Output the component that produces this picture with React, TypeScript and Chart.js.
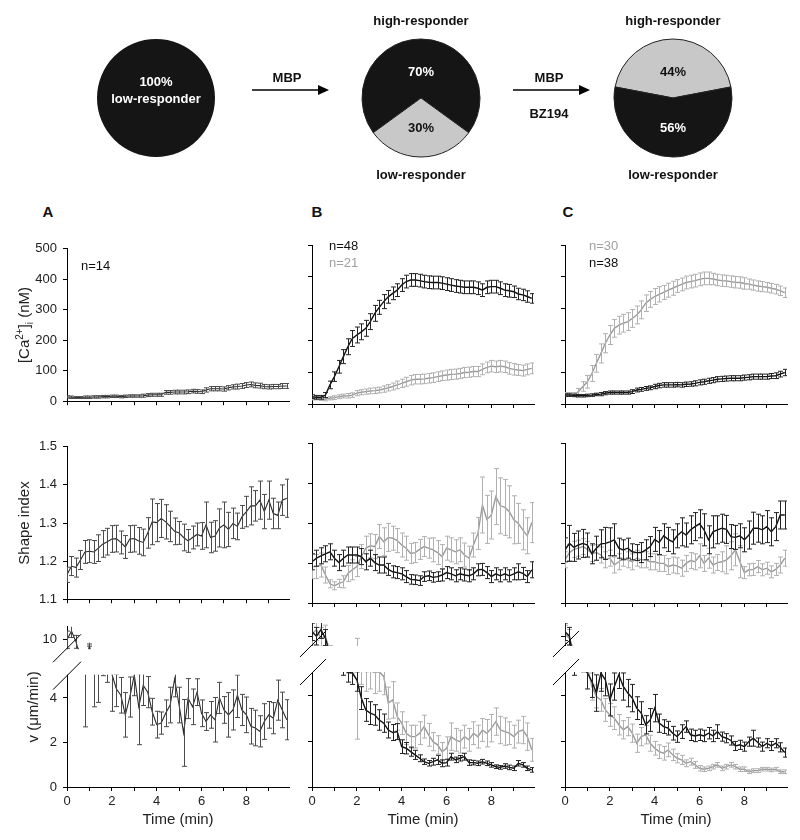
import React, { useEffect, useRef } from 'react';
import { Chart, registerables, LinearScale } from 'chart.js';

Chart.register(...registerables);

const FONT = "'Liberation Sans', Arial, Helvetica, sans-serif";

// ---------------- data ----------------
const TIMES = [0, 0.2, 0.4, 0.6, 0.8, 1, 1.2, 1.4, 1.6, 1.8,
  2, 2.2, 2.4, 2.6, 2.8, 3, 3.2, 3.4, 3.6, 3.8,
  4, 4.2, 4.4, 4.6, 4.8, 5, 5.2, 5.4, 5.6, 5.8,
  6, 6.2, 6.4, 6.6, 6.8, 7, 7.2, 7.4, 7.6, 7.8,
  8, 8.2, 8.4, 8.6, 8.8, 9, 9.2, 9.4, 9.6, 9.8];

const X_TICKS = [0, 1, 2, 3, 4, 5, 6, 7, 8, 9];
const X_LABELED = [0, 2, 4, 6, 8];
const CA_TICKS = [0, 100, 200, 300, 400, 500];
const SHAPE_TICKS = [1.1, 1.2, 1.3, 1.4, 1.5];
const V_TICKS = [0, 2, 4, 10];

const PIE1_VALUES = [100];
const PIE2_VALUES = [70, 30];
const PIE3_VALUES = [44, 56];

const CA_A = [14, 13, 12, 12, 13, 13, 14, 14, 15, 15,
  16, 16, 15, 16, 17, 17, 17, 18, 20, 21,
  21, 21, 29, 29, 30, 30, 30, 31, 33, 32,
  31, 37, 41, 41, 41, 40, 44, 47, 48, 50,
  53, 55, 52, 51, 48, 47, 48, 48, 50, 50];
const CA_A_ERR = [4, 4, 3, 3, 4, 4, 4, 4, 4, 4,
  4, 4, 4, 4, 4, 4, 4, 5, 5, 5,
  5, 5, 6, 6, 6, 6, 6, 6, 6, 6,
  6, 7, 7, 7, 7, 7, 7, 7, 8, 8,
  8, 8, 8, 8, 7, 7, 7, 7, 8, 8];

const CA_B_BLACK = [23, 21, 21, 28, 60, 86, 117, 149, 180, 206,
  217, 227, 238, 259, 285, 304, 322, 337, 348, 358,
  374, 385, 390, 390, 388, 385, 383, 382, 382, 380,
  377, 374, 371, 369, 367, 367, 367, 364, 358, 367,
  369, 369, 364, 358, 356, 353, 346, 343, 338, 332];
const CA_B_BLACK_ERR = [6, 6, 6, 8, 12, 15, 20, 22, 25, 25,
  25, 25, 25, 25, 25, 22, 22, 20, 20, 20,
  20, 20, 20, 20, 20, 20, 20, 20, 20, 20,
  20, 20, 20, 20, 20, 20, 20, 20, 20, 20,
  20, 20, 20, 20, 20, 18, 18, 18, 18, 15];
const CA_B_GREY = [18, 18, 16, 15, 18, 20, 23, 25, 26, 28,
  34, 37, 39, 41, 42, 44, 47, 51, 55, 60,
  65, 70, 75, 78, 78, 79, 81, 83, 86, 89,
  91, 93, 94, 96, 99, 100, 102, 102, 109, 115,
  119, 117, 119, 117, 112, 109, 107, 105, 109, 112];
const CA_B_GREY_ERR = [5, 5, 5, 5, 5, 6, 6, 6, 7, 7,
  8, 8, 8, 9, 9, 9, 10, 10, 11, 12,
  13, 14, 15, 15, 15, 15, 15, 15, 15, 15,
  16, 16, 16, 16, 16, 16, 16, 16, 17, 17,
  18, 18, 18, 18, 18, 18, 17, 17, 17, 17];

const CA_C_GREY = [30, 30, 30, 39, 55, 70, 96, 128, 159, 191,
  217, 238, 248, 254, 259, 269, 280, 296, 317, 329,
  338, 345, 351, 358, 364, 371, 376, 382, 385, 388,
  392, 395, 395, 393, 390, 388, 387, 385, 383, 382,
  379, 377, 374, 371, 369, 367, 364, 361, 356, 350];
const CA_C_GREY_ERR = [6, 6, 6, 10, 15, 20, 25, 28, 30, 30,
  30, 28, 28, 28, 28, 28, 28, 28, 26, 25,
  25, 24, 22, 22, 22, 20, 20, 20, 20, 20,
  20, 20, 20, 18, 18, 18, 18, 18, 18, 18,
  18, 16, 16, 16, 16, 15, 15, 15, 15, 15];
const CA_C_BLACK = [28, 28, 27, 26, 26, 27, 28, 30, 31, 34,
  36, 36, 36, 36, 36, 39, 44, 46, 49, 51,
  55, 58, 60, 60, 60, 61, 60, 62, 63, 65,
  68, 70, 73, 75, 78, 79, 80, 81, 81, 81,
  83, 84, 86, 86, 86, 86, 88, 89, 94, 99];
const CA_C_BLACK_ERR = [4, 4, 4, 4, 4, 4, 4, 4, 5, 5,
  5, 5, 5, 5, 5, 6, 6, 6, 6, 6,
  7, 7, 7, 7, 7, 7, 7, 7, 7, 8,
  8, 8, 8, 8, 8, 8, 8, 8, 8, 8,
  8, 8, 8, 8, 8, 8, 8, 9, 9, 10];

const SHAPE_A = [1.164, 1.187, 1.183, 1.203, 1.224, 1.226, 1.224, 1.234, 1.245, 1.251,
  1.258, 1.259, 1.249, 1.237, 1.258, 1.259, 1.253, 1.249, 1.274, 1.303,
  1.301, 1.312, 1.303, 1.291, 1.278, 1.274, 1.262, 1.253, 1.262, 1.27,
  1.266, 1.295, 1.262, 1.266, 1.287, 1.295, 1.283, 1.299, 1.291, 1.316,
  1.33, 1.345, 1.345, 1.36, 1.33, 1.36, 1.325, 1.32, 1.36, 1.365];
const SHAPE_A_ERR = [0.02, 0.025, 0.025, 0.025, 0.03, 0.03, 0.03, 0.035, 0.035, 0.035,
  0.035, 0.035, 0.03, 0.03, 0.035, 0.035, 0.035, 0.035, 0.04, 0.06,
  0.05, 0.05, 0.045, 0.04, 0.035, 0.03, 0.035, 0.03, 0.03, 0.03,
  0.035, 0.06, 0.04, 0.04, 0.05, 0.06, 0.045, 0.04, 0.035, 0.03,
  0.04, 0.05, 0.04, 0.05, 0.045, 0.05, 0.04, 0.035, 0.04, 0.05];

const SHAPE_B_BLACK = [1.203, 1.212, 1.218, 1.223, 1.228, 1.212, 1.201, 1.212, 1.22, 1.22,
  1.22, 1.216, 1.203, 1.212, 1.201, 1.195, 1.195, 1.184, 1.178, 1.176,
  1.173, 1.166, 1.159, 1.158, 1.156, 1.166, 1.168, 1.164, 1.166, 1.17,
  1.176, 1.173, 1.168, 1.173, 1.17, 1.168, 1.173, 1.183, 1.184, 1.176,
  1.166, 1.173, 1.168, 1.173, 1.168, 1.173, 1.178, 1.174, 1.166, 1.183];
const SHAPE_B_BLACK_ERR = [0.02, 0.02, 0.02, 0.02, 0.02, 0.02, 0.02, 0.02, 0.02, 0.02,
  0.02, 0.02, 0.02, 0.02, 0.02, 0.02, 0.02, 0.015, 0.015, 0.015,
  0.015, 0.015, 0.012, 0.012, 0.012, 0.012, 0.012, 0.012, 0.012, 0.015,
  0.015, 0.015, 0.015, 0.015, 0.015, 0.015, 0.015, 0.015, 0.015, 0.015,
  0.015, 0.015, 0.015, 0.015, 0.015, 0.015, 0.02, 0.015, 0.015, 0.02];
const SHAPE_B_GREY = [1.191, 1.191, 1.195, 1.17, 1.148, 1.143, 1.149, 1.153, 1.174, 1.183,
  1.191, 1.216, 1.237, 1.243, 1.241, 1.266, 1.253, 1.264, 1.262, 1.256,
  1.245, 1.237, 1.224, 1.226, 1.234, 1.241, 1.237, 1.233, 1.226, 1.216,
  1.237, 1.233, 1.228, 1.233, 1.22, 1.212, 1.245, 1.274, 1.345, 1.309,
  1.32, 1.366, 1.343, 1.339, 1.328, 1.308, 1.299, 1.283, 1.268, 1.301];
const SHAPE_B_GREY_ERR = [0.03, 0.03, 0.03, 0.02, 0.01, 0.01, 0.01, 0.015, 0.02, 0.025,
  0.025, 0.03, 0.03, 0.03, 0.03, 0.03, 0.035, 0.035, 0.03, 0.03,
  0.03, 0.03, 0.025, 0.025, 0.025, 0.025, 0.025, 0.03, 0.03, 0.03,
  0.03, 0.03, 0.03, 0.03, 0.03, 0.03, 0.03, 0.04, 0.07, 0.06,
  0.06, 0.07, 0.07, 0.07, 0.065, 0.06, 0.05, 0.05, 0.045, 0.05];

const SHAPE_C_BLACK = [1.233, 1.249, 1.239, 1.245, 1.249, 1.245, 1.223, 1.237, 1.248, 1.249,
  1.253, 1.258, 1.237, 1.233, 1.237, 1.228, 1.226, 1.226, 1.233, 1.241,
  1.259, 1.251, 1.268, 1.259, 1.253, 1.268, 1.278, 1.27, 1.283, 1.291,
  1.298, 1.283, 1.258, 1.278, 1.283, 1.287, 1.284, 1.266, 1.264, 1.268,
  1.258, 1.27, 1.287, 1.287, 1.283, 1.291, 1.278, 1.291, 1.32, 1.32];
const SHAPE_C_BLACK_ERR = [0.03, 0.045, 0.035, 0.035, 0.035, 0.03, 0.025, 0.03, 0.035, 0.04,
  0.035, 0.04, 0.025, 0.025, 0.025, 0.02, 0.02, 0.025, 0.025, 0.025,
  0.03, 0.03, 0.03, 0.03, 0.03, 0.03, 0.035, 0.03, 0.035, 0.035,
  0.035, 0.04, 0.035, 0.04, 0.035, 0.035, 0.035, 0.03, 0.03, 0.03,
  0.03, 0.035, 0.04, 0.035, 0.035, 0.04, 0.035, 0.035, 0.035, 0.035];
const SHAPE_C_GREY = [1.208, 1.226, 1.234, 1.237, 1.241, 1.234, 1.224, 1.226, 1.22, 1.208,
  1.212, 1.195, 1.203, 1.212, 1.208, 1.203, 1.212, 1.208, 1.208, 1.203,
  1.203, 1.199, 1.199, 1.191, 1.195, 1.193, 1.187, 1.199, 1.206, 1.203,
  1.218, 1.199, 1.212, 1.195, 1.201, 1.203, 1.208, 1.218, 1.233, 1.203,
  1.176, 1.183, 1.184, 1.191, 1.183, 1.187, 1.178, 1.184, 1.195, 1.212];
const SHAPE_C_GREY_ERR = [0.02, 0.02, 0.02, 0.02, 0.02, 0.02, 0.02, 0.02, 0.02, 0.02,
  0.02, 0.02, 0.02, 0.02, 0.02, 0.02, 0.02, 0.02, 0.02, 0.02,
  0.02, 0.02, 0.02, 0.02, 0.02, 0.02, 0.02, 0.02, 0.02, 0.02,
  0.03, 0.02, 0.025, 0.02, 0.02, 0.025, 0.035, 0.035, 0.04, 0.04,
  0.015, 0.015, 0.015, 0.015, 0.015, 0.015, 0.015, 0.015, 0.02, 0.02];

const V_A = [10.0, 10.4, 9.9, 8.0, 5.6, 9.75, 5.5, 6.5, 7.0, 6.2,
  5.3, 4.41, 4.12, 3.24, 4.04, 5.1, 3.6, 4.56, 4.26, 3.38,
  2.8, 2.87, 3.31, 3.68, 4.85, 3.68, 2.43, 3.97, 3.6, 4.26,
  3.31, 2.94, 3.24, 3.02, 4.0, 3.46, 3.24, 3.46, 4.12, 3.46,
  3.24, 2.73, 2.65, 2.5, 2.94, 3.24, 3.09, 3.9, 3.46, 3.02];
const V_A_ERR = [0.4, 0.3, 0.3, 0.5, 2.9, 0.05, 1.9, 2.7, 2.0, 1.5,
  1.9, 0.8, 0.8, 1.0, 0.9, 1.0, 1.7, 0.9, 0.7, 0.6,
  0.6, 0.5, 0.6, 0.8, 0.8, 0.8, 1.5, 0.9, 0.8, 0.6,
  0.6, 0.4, 0.6, 1.0, 0.7, 0.6, 1.0, 0.9, 1.0, 0.7,
  0.8, 0.8, 0.8, 0.7, 0.8, 0.6, 0.7, 0.9, 0.8, 0.9];

const V_B_BLACK = [10.2, 10.0, 10.3, 9.9, 8.0, 7.0, 6.5, 5.5, 5.1, 5.0,
  4.7, 3.9, 3.38, 3.24, 3.16, 2.94, 2.8, 2.5, 2.39, 2.43,
  1.77, 1.70, 1.55, 1.41, 1.26, 1.11, 1.04, 1.11, 1.19, 1.04,
  1.07, 1.33, 1.19, 1.26, 1.33, 1.07, 1.07, 1.04, 1.11, 1.04,
  0.97, 0.89, 0.86, 0.92, 0.86, 0.82, 1.04, 0.97, 0.82, 0.75];
const V_B_BLACK_ERR = [0.4, 0.4, 0.4, 0.4, 0.6, 0.6, 0.6, 0.6, 0.5, 0.5,
  0.5, 0.5, 0.5, 0.5, 0.45, 0.45, 0.4, 0.35, 0.35, 0.35,
  0.3, 0.25, 0.2, 0.2, 0.15, 0.12, 0.12, 0.15, 0.2, 0.15,
  0.15, 0.15, 0.12, 0.12, 0.15, 0.12, 0.1, 0.1, 0.1, 0.1,
  0.1, 0.08, 0.08, 0.1, 0.1, 0.1, 0.12, 0.1, 0.1, 0.1];
const V_B_GREY = [10.1, 10.3, 9.9, 10.0, 8.5, 7.5, 7.0, 6.5, 6.0, 6.0,
  6.0, 5.5, 5.2, 5.3, 5.1, 5.2, 4.85, 3.68, 3.82, 3.09,
  2.8, 2.36, 2.21, 2.21, 2.36, 2.65, 2.29, 1.99, 1.85, 1.55,
  1.70, 2.21, 2.07, 1.99, 2.21, 2.07, 2.36, 2.21, 2.5, 2.36,
  2.58, 2.87, 2.5, 2.43, 2.36, 2.21, 2.43, 2.5, 2.21, 1.63];
const V_B_GREY_ERR = [0.5, 0.5, 0.5, 0.5, 1.0, 1.0, 1.0, 1.0, 1.0, 1.0,
  3.9, 1.0, 1.0, 1.0, 1.0, 1.0, 0.8, 0.7, 0.8, 0.6,
  0.5, 0.5, 0.5, 0.5, 0.5, 0.5, 0.5, 0.4, 0.4, 0.4,
  0.5, 0.6, 0.5, 0.5, 0.5, 0.5, 0.5, 0.5, 0.5, 0.6,
  0.6, 0.6, 0.6, 0.6, 0.5, 0.5, 0.5, 0.6, 0.6, 0.5];

const V_C_BLACK = [10.2, 10.0, 6.0, 7.0, 6.0, 5.0, 4.63, 4.12, 5.0, 4.7,
  3.82, 4.41, 4.92, 4.41, 4.12, 3.9, 3.46, 3.24, 2.73, 2.94,
  3.46, 2.8, 2.65, 2.58, 2.36, 2.21, 2.43, 2.65, 2.29, 2.24,
  2.29, 2.24, 2.36, 2.24, 2.43, 2.21, 2.14, 2.04, 1.8, 1.85,
  1.77, 1.99, 2.14, 1.95, 1.77, 1.92, 1.8, 1.92, 1.74, 1.51];
const V_C_BLACK_ERR = [0.4, 0.4, 1.1, 0.8, 0.8, 0.7, 0.7, 0.8, 0.8, 0.7,
  0.7, 0.6, 0.6, 0.6, 0.6, 0.6, 0.5, 0.5, 0.4, 0.5,
  0.6, 0.4, 0.3, 0.3, 0.3, 0.25, 0.3, 0.25, 0.25, 0.25,
  0.25, 0.25, 0.25, 0.25, 0.3, 0.2, 0.2, 0.2, 0.2, 0.2,
  0.2, 0.2, 0.35, 0.2, 0.2, 0.2, 0.2, 0.2, 0.2, 0.2];
const V_C_GREY = [10.1, 9.9, 8.5, 7.5, 6.5, 6.0, 4.41, 3.97, 3.82, 3.38,
  3.16, 3.02, 2.73, 2.51, 2.65, 2.36, 1.92, 2.21, 2.29, 1.92,
  1.70, 1.55, 1.48, 1.63, 1.41, 1.26, 1.19, 1.04, 1.11, 0.97,
  0.82, 0.78, 0.82, 0.89, 0.97, 0.82, 0.89, 0.97, 0.89, 0.78,
  0.78, 0.67, 0.72, 0.72, 0.78, 0.78, 0.75, 0.78, 0.67, 0.67];
const V_C_GREY_ERR = [0.4, 0.4, 0.6, 0.6, 0.6, 0.6, 0.6, 0.5, 0.5, 0.5,
  0.5, 0.5, 0.45, 0.4, 0.4, 0.4, 0.4, 0.4, 0.4, 0.35,
  0.3, 0.3, 0.3, 0.3, 0.25, 0.2, 0.2, 0.15, 0.15, 0.15,
  0.12, 0.1, 0.1, 0.1, 0.1, 0.1, 0.1, 0.1, 0.1, 0.1,
  0.1, 0.08, 0.08, 0.08, 0.08, 0.08, 0.08, 0.08, 0.08, 0.08];

// ---------------- styling / layout constants ----------------
const BLACK = { line: '#111111', err: '#222222', width: 1.4 };
const GREY = { line: '#9a9a9a', err: '#b0b0b0', width: 1.4 };
const DARK_A = { line: '#2a2a2a', err: '#4a4a4a', width: 1.1 };

const COL_LEFT = [0, 300, 553];
const COL_W = [295, 240, 240];
const Y_AXIS_W = [67, 12, 12];
const ROW_TOP = [235, 433, 613];
const ROW_H = [180, 180, 227];
const X_AXIS_H = [11, 10, 53];

// broken axis (velocity row)
const BREAK_LO = 5;
const BREAK_HI = 9.6;
const V_MAX = 10.6;
const F1 = 0.695;
const F2 = 0.866;

function brokenFrac(v: number) {
  if (v <= BREAK_LO) return (v / BREAK_LO) * F1;
  if (v <= BREAK_HI) return F1 + ((v - BREAK_LO) / (BREAK_HI - BREAK_LO)) * (F2 - F1);
  return F2 + ((v - BREAK_HI) / (V_MAX - BREAK_HI)) * (1 - F2);
}
function brokenInv(f: number) {
  if (f <= F1) return (f / F1) * BREAK_LO;
  if (f <= F2) return BREAK_LO + ((f - F1) / (F2 - F1)) * (BREAK_HI - BREAK_LO);
  return BREAK_HI + ((f - F2) / (1 - F2)) * (V_MAX - BREAK_HI);
}

class BrokenScale extends (LinearScale as any) {
  static id = 'broken';
  static defaults = (LinearScale as any).defaults;
  getPixelForValue(value: any) {
    if (value === null || value === undefined || isNaN(value)) return NaN;
    return (this as any).getPixelForDecimal(brokenFrac(value));
  }
  getValueForPixel(pixel: number) {
    return brokenInv((this as any).getDecimalForPixel(pixel));
  }
}
Chart.register(BrokenScale as any);

Chart.defaults.font.family = FONT;
Chart.defaults.color = '#222';

// ---------------- plugins ----------------
const CAP = 2.5;
const errorBarPlugin = {
  id: 'errbars',
  afterDatasetDraw(chart: any, args: any) {
    const ds = chart.data.datasets[args.index];
    if (!ds.errors) return;
    const xs = chart.scales.x;
    const ys = chart.scales.y;
    const a = chart.chartArea;
    const ctx = chart.ctx;
    ctx.save();
    ctx.beginPath();
    ctx.rect(a.left, a.top, a.right - a.left, a.bottom - a.top);
    ctx.clip();
    ctx.strokeStyle = ds.errColor;
    ctx.lineWidth = 1;
    ds.data.forEach((p: any, i: number) => {
      const e = ds.errors[i];
      const x = Math.round(xs.getPixelForValue(p.x)) + 0.5;
      const y1 = ys.getPixelForValue(p.y + e);
      const y2 = ys.getPixelForValue(p.y - e);
      ctx.beginPath();
      ctx.moveTo(x, y1); ctx.lineTo(x, y2);
      ctx.moveTo(x - CAP, y1); ctx.lineTo(x + CAP, y1);
      ctx.moveTo(x - CAP, y2); ctx.lineTo(x + CAP, y2);
      ctx.stroke();
    });
    ctx.restore();
  },
};

const notesPlugin = {
  id: 'notes',
  afterDraw(chart: any, _args: any, opts: any) {
    if (!opts || !opts.items) return;
    const a = chart.chartArea;
    const ctx = chart.ctx;
    ctx.save();
    ctx.font = `13px ${FONT}`;
    ctx.textBaseline = 'middle';
    ctx.textAlign = 'left';
    for (const it of opts.items) {
      ctx.fillStyle = it.color;
      ctx.fillText(it.text, a.left + it.dx, a.top + it.dy);
    }
    ctx.restore();
  },
};

const breakPlugin = {
  id: 'axisBreak',
  afterDraw(chart: any) {
    const ys = chart.scales.y;
    const a = chart.chartArea;
    const ctx = chart.ctx;
    const yLo = ys.getPixelForValue(BREAK_LO);
    const yHi = ys.getPixelForValue(BREAK_HI);
    ctx.save();
    ctx.fillStyle = '#ffffff';
    ctx.fillRect(a.left - 2, yHi + 1, a.right - a.left + 6, yLo - yHi - 2);
    ctx.strokeStyle = '#000';
    ctx.lineWidth = 1;
    for (const y of [yHi, yLo]) {
      ctx.beginPath();
      ctx.moveTo(a.left - 14, y + 14);
      ctx.lineTo(a.left + 14, y - 14);
      ctx.stroke();
    }
    ctx.restore();
  },
};

const CA_TITLE_SEGS = [
  { t: '[Ca', mode: '' },
  { t: '2+', mode: 'sup' },
  { t: ']', mode: '' },
  { t: 'i', mode: 'sub' },
  { t: ' (nM)', mode: '' },
];
const caTitlePlugin = {
  id: 'caTitle',
  afterDraw(chart: any) {
    const a = chart.chartArea;
    const ctx = chart.ctx;
    ctx.save();
    ctx.translate(25, (a.top + a.bottom) / 2);
    ctx.rotate(-Math.PI / 2);
    ctx.fillStyle = '#222';
    ctx.textBaseline = 'middle';
    ctx.textAlign = 'left';
    const big = `15px ${FONT}`;
    const small = `10px ${FONT}`;
    let total = 0;
    for (const s of CA_TITLE_SEGS) {
      ctx.font = s.mode ? small : big;
      total += ctx.measureText(s.t).width;
    }
    let x = -total / 2;
    for (const s of CA_TITLE_SEGS) {
      ctx.font = s.mode ? small : big;
      const dy = s.mode === 'sup' ? -5 : s.mode === 'sub' ? 5 : 0;
      ctx.fillText(s.t, x, dy);
      x += ctx.measureText(s.t).width;
    }
    ctx.restore();
  },
};

const pieTextPlugin = {
  id: 'pieText',
  afterDraw(chart: any, _args: any, opts: any) {
    if (!opts || !opts.items) return;
    const a = chart.chartArea;
    const cx = (a.left + a.right) / 2;
    const cy = (a.top + a.bottom) / 2;
    const ctx = chart.ctx;
    ctx.save();
    ctx.font = `bold 13px ${FONT}`;
    ctx.textAlign = 'center';
    ctx.textBaseline = 'middle';
    for (const it of opts.items) {
      ctx.fillStyle = it.color;
      ctx.fillText(it.text, cx, cy + it.dy);
    }
    ctx.restore();
  },
};

// ---------------- builders ----------------
type Series = { values: number[]; errors: number[]; style: { line: string; err: string; width: number } };
type Note = { text: string; color: string; dx: number; dy: number };

function panelConfig(row: number, col: number, series: Series[], notes: Note[]) {
  const first = col === 0;
  const yTicks = row === 0 ? CA_TICKS : row === 1 ? SHAPE_TICKS : V_TICKS;
  const yScale: any = {
    type: row === 2 ? 'broken' : 'linear',
    min: row === 0 ? 0 : row === 1 ? 1.1 : 0,
    max: row === 0 ? 500 : row === 1 ? 1.5 : V_MAX,
    afterBuildTicks: (s: any) => { s.ticks = yTicks.map((v) => ({ value: v })); },
    afterFit: (s: any) => { s.width = Y_AXIS_W[col]; },
    grid: { drawOnChartArea: false, drawTicks: true, tickLength: 4, color: '#000' },
    border: { display: true, color: '#000', width: 1 },
    ticks: {
      display: first,
      font: { size: 13, family: FONT },
      color: '#222',
      padding: 6,
      callback: (v: any) => (row === 1 ? Number(v).toFixed(1) : String(v)),
    },
    title: {
      display: first && row !== 0,
      text: row === 1 ? 'Shape index' : 'v (\u03bcm/min)',
      font: { size: 15, family: FONT },
      color: '#222',
      padding: { top: row === 1 ? 16 : 25, bottom: 0 },
    },
  };
  const xScale: any = {
    type: 'linear',
    min: 0,
    max: 9.9,
    afterBuildTicks: (s: any) => { s.ticks = X_TICKS.map((v) => ({ value: v })); },
    afterFit: (s: any) => { s.height = X_AXIS_H[row]; },
    grid: { drawOnChartArea: false, drawTicks: true, tickLength: 4, color: '#000' },
    border: { display: true, color: '#000', width: 1 },
    ticks: {
      display: row === 2,
      autoSkip: false,
      maxRotation: 0,
      font: { size: 13, family: FONT },
      color: '#222',
      padding: 3,
      callback: (v: any) => (X_LABELED.includes(Number(v)) ? String(v) : ''),
    },
    title: {
      display: row === 2,
      text: 'Time (min)',
      font: { size: 15, family: FONT },
      color: '#222',
      padding: { top: 2, bottom: 11 },
    },
  };
  const datasets = series.map((s) => ({
    data: TIMES.map((t, i) => ({ x: t, y: s.values[i] })),
    errors: s.errors,
    errColor: s.style.err,
    borderColor: s.style.line,
    borderWidth: s.style.width,
    pointRadius: 0,
    tension: 0,
    fill: false,
  }));
  const plugins: any[] = [errorBarPlugin, notesPlugin];
  if (row === 2) plugins.push(breakPlugin);
  if (row === 0 && first) plugins.push(caTitlePlugin);
  return {
    type: 'line',
    data: { datasets },
    options: {
      animation: false,
      responsive: false,
      events: [],
      layout: { padding: { top: 10, right: 6, left: 0, bottom: 0 } },
      scales: { x: xScale, y: yScale },
      plugins: { legend: { display: false }, tooltip: { enabled: false }, notes: { items: notes } },
    },
    plugins,
  };
}

function pieConfig(values: number[], colors: string[], rotation: number, border: number, items: any[]) {
  return {
    type: 'pie',
    data: {
      labels: values.map((v) => `${v}%`),
      datasets: [{ data: values, backgroundColor: colors, borderColor: '#222', borderWidth: border, hoverOffset: 0 }],
    },
    options: {
      animation: false,
      responsive: false,
      events: [],
      rotation,
      radius: 59,
      plugins: { legend: { display: false }, tooltip: { enabled: false }, pieText: { items } },
    },
    plugins: [pieTextPlugin],
  };
}

// ---------------- components ----------------
function ChartBox({ left, top, width, height, build }: any) {
  const ref = useRef<HTMLCanvasElement>(null);
  useEffect(() => {
    const chart = new Chart(ref.current as any, build());
    return () => chart.destroy();
  }, []);
  return (
    <canvas
      ref={ref}
      width={width}
      height={height}
      style={{ position: 'absolute', left, top, width, height }}
    />
  );
}

function Label({ x, y, text, size = 13, bold = true, color = '#111' }: any) {
  return (
    <div
      style={{
        position: 'absolute', left: x, top: y, transform: 'translate(-50%, -50%)',
        fontSize: size, fontWeight: bold ? 'bold' : 'normal', whiteSpace: 'nowrap', color, lineHeight: 1,
      }}
    >
      {text}
    </div>
  );
}

const PIE_BLACK = '#151515';
const PIE_GREY = '#c8c8c8';

export default function App() {
  const panels = [
    // row 0: calcium
    { row: 0, col: 0, series: [{ values: CA_A, errors: CA_A_ERR, style: DARK_A }], notes: [{ text: 'n=14', color: '#111', dx: 14, dy: 18 }] },
    { row: 0, col: 1, series: [{ values: CA_B_BLACK, errors: CA_B_BLACK_ERR, style: BLACK }, { values: CA_B_GREY, errors: CA_B_GREY_ERR, style: GREY }], notes: [{ text: 'n=48', color: '#111', dx: 17, dy: 1 }, { text: 'n=21', color: '#a0a0a0', dx: 17, dy: 18 }] },
    { row: 0, col: 2, series: [{ values: CA_C_BLACK, errors: CA_C_BLACK_ERR, style: BLACK }, { values: CA_C_GREY, errors: CA_C_GREY_ERR, style: GREY }], notes: [{ text: 'n=30', color: '#a0a0a0', dx: 24, dy: 1 }, { text: 'n=38', color: '#111', dx: 24, dy: 18 }] },
    // row 1: shape index
    { row: 1, col: 0, series: [{ values: SHAPE_A, errors: SHAPE_A_ERR, style: DARK_A }], notes: [] },
    { row: 1, col: 1, series: [{ values: SHAPE_B_BLACK, errors: SHAPE_B_BLACK_ERR, style: BLACK }, { values: SHAPE_B_GREY, errors: SHAPE_B_GREY_ERR, style: GREY }], notes: [] },
    { row: 1, col: 2, series: [{ values: SHAPE_C_BLACK, errors: SHAPE_C_BLACK_ERR, style: BLACK }, { values: SHAPE_C_GREY, errors: SHAPE_C_GREY_ERR, style: GREY }], notes: [] },
    // row 2: velocity
    { row: 2, col: 0, series: [{ values: V_A, errors: V_A_ERR, style: DARK_A }], notes: [] },
    { row: 2, col: 1, series: [{ values: V_B_BLACK, errors: V_B_BLACK_ERR, style: BLACK }, { values: V_B_GREY, errors: V_B_GREY_ERR, style: GREY }], notes: [] },
    { row: 2, col: 2, series: [{ values: V_C_BLACK, errors: V_C_BLACK_ERR, style: BLACK }, { values: V_C_GREY, errors: V_C_GREY_ERR, style: GREY }], notes: [] },
  ];

  return (
    <div style={{ position: 'absolute', left: 0, top: 0, width: 800, height: 840, background: '#fff', fontFamily: FONT, color: '#111' }}>
      {/* pies */}
      <ChartBox left={86} top={28} width={140} height={140}
        build={() => pieConfig(PIE1_VALUES, [PIE_BLACK], 0, 0, [
          { text: '100%', color: '#fff', dy: -16 },
          { text: 'low-responder', color: '#fff', dy: 1 },
        ])} />
      <ChartBox left={351} top={28} width={140} height={140}
        build={() => pieConfig(PIE2_VALUES, [PIE_BLACK, PIE_GREY], -(PIE2_VALUES[0] * 3.6) / 2, 1, [
          { text: '70%', color: '#fff', dy: -26 },
          { text: '30%', color: '#111', dy: 30 },
        ])} />
      <ChartBox left={603} top={28} width={140} height={140}
        build={() => pieConfig(PIE3_VALUES, [PIE_GREY, PIE_BLACK], -(PIE3_VALUES[0] * 3.6) / 2, 1, [
          { text: '44%', color: '#111', dy: -26 },
          { text: '56%', color: '#fff', dy: 30 },
        ])} />

      <svg width={800} height={200} style={{ position: 'absolute', left: 0, top: 0 }}>
        <line x1={252} y1={90} x2={320} y2={90} stroke="#000" strokeWidth={1.6} />
        <polygon points="318,85 329,90 318,95" fill="#000" />
        <line x1={513} y1={90} x2={581} y2={90} stroke="#000" strokeWidth={1.6} />
        <polygon points="579,85 590,90 579,95" fill="#000" />
      </svg>

      <Label x={287} y={77} text="MBP" />
      <Label x={549} y={77} text="MBP" />
      <Label x={549} y={113} text="BZ194" />
      <Label x={421} y={20} text="high-responder" />
      <Label x={421} y={174} text="low-responder" />
      <Label x={673} y={20} text="high-responder" />
      <Label x={673} y={174} text="low-responder" />

      <Label x={48} y={211} text="A" size={15} />
      <Label x={317} y={211} text="B" size={15} />
      <Label x={568} y={211} text="C" size={15} />

      {panels.map((p) => (
        <ChartBox
          key={`${p.row}-${p.col}`}
          left={COL_LEFT[p.col]}
          top={ROW_TOP[p.row]}
          width={COL_W[p.col]}
          height={ROW_H[p.row]}
          build={() => panelConfig(p.row, p.col, p.series as Series[], p.notes as Note[])}
        />
      ))}
    </div>
  );
}
